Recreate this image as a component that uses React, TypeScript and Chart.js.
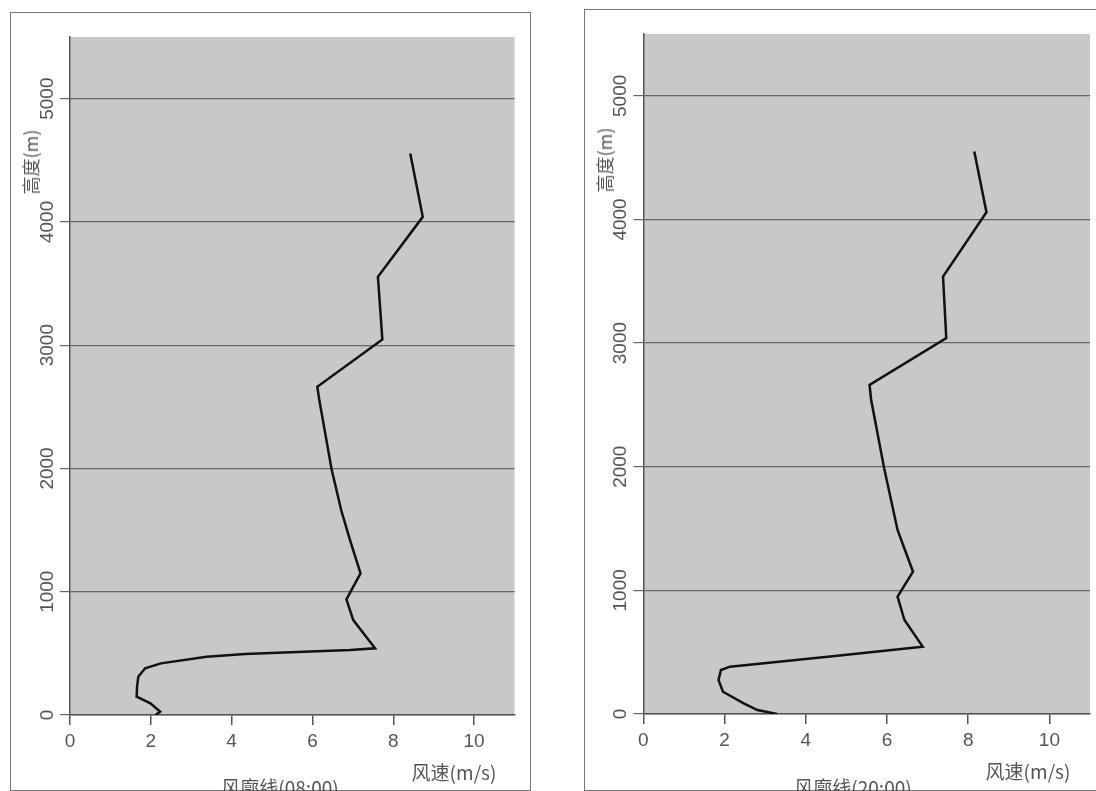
import React, { useEffect, useRef } from "react";
import { Chart, registerables } from "chart.js";

Chart.register(...registerables);

// 08:00 wind profile
const speed08 = [8.42, 8.73, 7.62, 7.73, 6.12, 6.17, 6.47, 6.71, 6.93, 7.19, 6.84, 7.01, 7.55, 6.93, 4.33, 3.38, 2.25, 1.86, 1.69, 1.66, 1.65, 1.99, 2.23, 2.12];
const height08 = [4555, 4041, 3555, 3047, 2663, 2555, 2000, 1663, 1419, 1149, 938, 770, 541, 527, 494, 473, 419, 379, 311, 230, 149, 95, 27, 0];

// 20:00 wind profile
const speed20 = [8.15, 8.45, 7.38, 7.46, 5.57, 5.61, 5.93, 6.26, 6.64, 6.26, 6.43, 6.88, 4.54, 2.13, 1.91, 1.85, 1.96, 2.47, 2.81, 3.29];
const height20 = [4549, 4059, 3538, 3040, 2662, 2540, 1988, 1489, 1151, 949, 760, 545, 464, 383, 356, 275, 180, 86, 32, 0];

const xMin = 0;
const xMax = 11;
const xStep = 2;
const yMin = 0;
const yMax = 5500;
const yTickValues = [0, 1000, 2000, 3000, 4000, 5000];

const xTitle = "风速(m/s)";
const yTitle = "高度(m)";
const captions = ["风廓线(08:00)", "风廓线(20:00)"];

const NUM_FONT = '"Liberation Sans Narrow", "Liberation Sans", sans-serif';
const CJK_FONT = '"Noto Sans CJK SC", "Noto Sans", sans-serif';

type PanelCfg = {
  left: number; top: number; width: number; height: number;
  areaLeft: number; areaTop: number; areaRight: number; areaBottom: number;
};

const bgPlugin = {
  id: "plotBg",
  beforeDraw(chart: any) {
    const { ctx, chartArea } = chart;
    if (!chartArea) return;
    ctx.save();
    ctx.fillStyle = "#c8c8c8";
    ctx.fillRect(chartArea.left, chartArea.top, chartArea.right - chartArea.left, chartArea.bottom - chartArea.top);
    ctx.restore();
  },
};

function Panel({ cfg, xs, ys }: { cfg: PanelCfg; xs: number[]; ys: number[] }) {
  const ref = useRef<HTMLCanvasElement | null>(null);
  useEffect(() => {
    if (!ref.current) return;
    const yW = cfg.areaLeft;
    const xH = cfg.height - cfg.areaBottom;
    const chart = new Chart(ref.current, {
      type: "scatter",
      data: {
        datasets: [
          {
            data: xs.map((x, i) => ({ x, y: ys[i] })),
            showLine: true,
            borderColor: "#111",
            borderWidth: 2.5,
            pointRadius: 0,
            tension: 0,
          },
        ],
      },
      options: {
        animation: false,
        responsive: false,
        devicePixelRatio: 1,
        layout: { padding: { top: cfg.areaTop, right: cfg.width - cfg.areaRight, left: 0, bottom: 0 } },
        plugins: { legend: { display: false }, tooltip: { enabled: false } },
        scales: {
          x: {
            type: "linear",
            min: xMin,
            max: xMax,
            afterFit: (s: any) => { s.height = xH; },
            ticks: { stepSize: xStep, includeBounds: false, color: "#555", font: { family: NUM_FONT, size: 19 }, padding: 5, maxRotation: 0 },
            grid: { drawOnChartArea: false, drawTicks: true, tickLength: 10, color: "#555", lineWidth: 1.5 },
            border: { display: true, color: "#555", width: 1.5 },
          },
          y: {
            type: "linear",
            min: yMin,
            max: yMax,
            afterFit: (s: any) => { s.width = yW; },
            afterBuildTicks: (s: any) => { s.ticks = yTickValues.map((v) => ({ value: v })); },
            ticks: { color: "#555", font: { family: NUM_FONT, size: 19 }, padding: -8.5, minRotation: 90, maxRotation: 90, crossAlign: "center", callback: (v: any) => String(v) },
            grid: { drawOnChartArea: true, drawTicks: true, tickLength: 10, color: "#666", lineWidth: 1.2 },
            border: { display: true, color: "#555", width: 1.5 },
          },
        },
      },
      plugins: [bgPlugin],
    } as any);
    return () => chart.destroy();
  }, []);
  return (
    <canvas
      ref={ref}
      width={cfg.width}
      height={cfg.height}
      style={{ position: "absolute", left: cfg.left, top: cfg.top, width: cfg.width, height: cfg.height }}
    />
  );
}

function Label({ text, x, y, rotate, size }: { text: string; x: number; y: number; rotate?: boolean; size: number }) {
  return (
    <div
      style={{
        position: "absolute",
        left: x,
        top: y,
        transform: `translate(-50%, -50%)${rotate ? " rotate(-90deg)" : ""}`,
        fontFamily: CJK_FONT,
        fontSize: size,
        color: "#555",
        whiteSpace: "nowrap",
        lineHeight: 1,
      }}
    >
      {text}
    </div>
  );
}

const leftCfg: PanelCfg = { left: 11, top: 13, width: 519, height: 777, areaLeft: 59, areaTop: 24, areaRight: 503.5, areaBottom: 702 };
const rightCfg: PanelCfg = { left: 585, top: 10, width: 525, height: 780, areaLeft: 58.4, areaTop: 24, areaRight: 505, areaBottom: 704 };

export default function App() {
  return (
    <div style={{ position: "fixed", left: 0, top: 0, width: 1096, height: 791, overflow: "hidden", background: "#fff" }}>
      <div style={{ position: "absolute", left: 10, top: 12, width: 519, height: 777, border: "1.5px solid #777" }} />
      <div style={{ position: "absolute", left: 584, top: 9, width: 525, height: 780, border: "1.5px solid #777" }} />
      <Panel cfg={leftCfg} xs={speed08} ys={height08} />
      <Panel cfg={rightCfg} xs={speed20} ys={height20} />
      <Label text={yTitle} x={29.5} y={162} rotate size={18} />
      <Label text={xTitle} x={454} y={771} size={19} />
      <Label text={captions[0]} x={280} y={786} size={19} />
      <Label text={yTitle} x={604} y={160} rotate size={18} />
      <Label text={xTitle} x={1028} y={770} size={19} />
      <Label text={captions[1]} x={853} y={786} size={19} />
    </div>
  );
}
